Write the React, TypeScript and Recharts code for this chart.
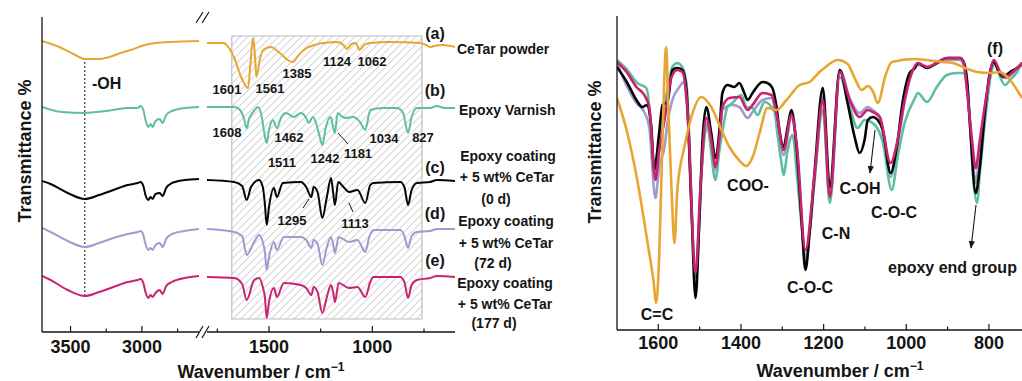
import React from 'react';
import { LineChart, Line, XAxis, YAxis, ReferenceArea, ReferenceLine } from 'recharts';

type Pt = [number, number];

// ---------- Panel 1: stacked FTIR spectra, 3700–2600 cm-1 window ----------
const cetarHigh: Pt[] = [[3700,291],[3580,285],[3480,278],[3400,273],[3300,273],[3230,275],[3150,279],[3080,282],[2950,288],[2800,290],[2600,291]];
const varnishHigh: Pt[] = [[3700,225],[3560,220],[3400,219],[3250,221],[3100,224],[3030,224],[3010,226],[2990,222],[2975,212],[2955,205],[2940,208],[2925,205],[2905,211],[2875,213],[2855,209],[2830,217],[2790,221],[2700,224],[2600,225]];
const day0High: Pt[] = [[3700,151],[3640,148],[3520,139],[3400,133],[3300,137],[3200,142],[3100,147],[3030,149],[3010,150],[2990,146],[2975,137],[2955,132],[2940,135],[2925,133],[2905,138],[2875,139],[2855,136],[2830,144],[2790,149],[2700,152],[2600,153]];
const day72High: Pt[] = [[3700,104],[3640,100],[3520,91],[3400,85],[3300,89],[3200,94],[3100,98],[3030,100],[3010,101],[2990,97],[2975,88],[2955,82],[2940,84],[2925,82],[2905,87],[2875,89],[2855,85],[2830,93],[2790,98],[2700,101],[2600,103]];
const day177High: Pt[] = [[3700,56],[3640,52],[3520,42],[3400,36],[3300,40],[3200,45],[3100,50],[3030,52],[3010,53],[2990,49],[2975,40],[2955,34],[2940,37],[2925,35],[2905,39],[2875,42],[2855,38],[2830,46],[2790,50],[2700,54],[2600,56]];

// ---------- Panel 1: stacked FTIR spectra, 1800–600 cm-1 window ----------
const cetarLow: Pt[] = [[1800,289],[1720,289],[1697,285],[1668,274],[1635,255],[1601,244],[1590,268],[1577,294],[1568,276],[1561,255],[1545,272],[1529,282],[1490,285],[1460,281],[1442,278],[1410,272],[1385,270],[1360,276],[1332,282],[1280,287],[1236,289],[1168,290],[1140,287],[1124,283],[1100,288],[1080,289],[1062,282],[1040,287],[1010,289],[913,290],[769,289],[740,287],[721,285],[700,286],[659,287],[600,285]];
const varnishLow: Pt[] = [[1800,225],[1700,225],[1668,225],[1640,222],[1622,214],[1608,204],[1595,214],[1587,217],[1570,222],[1553,225],[1535,215],[1522,198],[1511,189],[1500,202],[1481,212],[1462,204],[1440,215],[1418,219],[1380,215],[1346,219],[1320,214],[1308,209],[1288,215],[1274,210],[1258,198],[1242,187],[1225,205],[1202,215],[1190,205],[1181,199],[1168,219],[1150,216],[1130,214],[1091,215],[1060,210],[1034,202],[1010,222],[950,224],[880,224],[851,219],[827,199],[810,215],[784,224],[721,224],[688,226],[650,224],[600,224]];
const day0Low: Pt[] = [[1800,152],[1668,150],[1630,146],[1608,132],[1587,145],[1548,152],[1530,145],[1520,128],[1511,107],[1500,125],[1476,144],[1462,135],[1433,149],[1346,150],[1320,145],[1295,135],[1284,145],[1265,140],[1242,114],[1220,135],[1200,154],[1190,140],[1181,127],[1165,150],[1140,145],[1113,140],[1072,142],[1034,129],[1010,147],[995,149],[865,150],[845,145],[827,127],[810,142],[784,149],[720,150],[688,152],[600,151]];
const day72Low: Pt[] = [[1800,103],[1668,100],[1630,96],[1608,77],[1572,90],[1548,97],[1530,90],[1520,80],[1511,62],[1500,75],[1476,90],[1462,82],[1428,95],[1346,95],[1320,92],[1295,84],[1284,92],[1265,88],[1242,67],[1220,85],[1200,95],[1190,88],[1181,79],[1163,95],[1113,90],[1072,92],[1034,80],[1015,95],[995,102],[865,102],[845,96],[827,84],[810,96],[784,100],[720,101],[688,103],[600,103]];
const day177Low: Pt[] = [[1800,55],[1668,54],[1630,48],[1608,32],[1572,52],[1548,54],[1530,45],[1520,35],[1511,14],[1500,30],[1476,44],[1462,35],[1428,49],[1346,47],[1320,44],[1295,37],[1284,45],[1265,40],[1242,19],[1220,35],[1200,47],[1190,40],[1181,30],[1163,49],[1113,44],[1072,45],[1034,35],[1010,50],[995,55],[865,55],[845,50],[827,34],[810,47],[784,52],[720,54],[688,56],[600,55]];

// ---------- Panel 2: overlaid spectra, 1700–720 cm-1 ----------
const cetarFull: Pt[] = [[1700,232],[1675,197],[1651,150],[1627,90],[1612,50],[1605,27],[1598,73],[1590,190],[1581,283],[1576,223],[1568,140],[1561,87],[1554,140],[1537,183],[1520,213],[1496,233],[1472,223],[1447,200],[1428,183],[1405,170],[1387,164],[1370,175],[1355,197],[1336,222],[1314,220],[1290,230],[1258,245],[1234,248],[1210,258],[1198,262],[1166,270],[1142,266],[1125,252],[1108,240],[1093,244],[1080,238],[1069,227],[1050,255],[1035,268],[979,271],[950,270],[912,268],[887,267],[858,262],[829,258],[798,257],[773,258],[749,250],[720,232]];
const varnishFull: Pt[] = [[1700,270],[1675,260],[1651,247],[1629,242],[1622,223],[1615,180],[1607,153],[1598,180],[1590,213],[1578,240],[1566,263],[1554,267],[1542,263],[1532,247],[1525,190],[1518,107],[1508,52],[1501,107],[1493,173],[1481,205],[1472,177],[1462,150],[1452,180],[1440,210],[1433,223],[1421,227],[1399,235],[1387,223],[1372,222],[1360,215],[1343,228],[1319,218],[1312,197],[1302,167],[1297,155],[1287,180],[1275,195],[1265,157],[1253,103],[1244,68],[1234,97],[1222,150],[1202,220],[1185,127],[1161,253],[1137,223],[1118,202],[1101,210],[1076,205],[1057,188],[1035,140],[1021,173],[1004,207],[979,232],[972,237],[950,228],[926,243],[902,255],[878,257],[863,257],[853,247],[846,207],[839,157],[829,127],[822,157],[810,207],[793,260],[785,267],[773,253],[761,245],[749,250],[732,258],[720,267]];
const day0Full: Pt[] = [[1700,263],[1675,247],[1653,230],[1639,223],[1627,225],[1617,203],[1610,160],[1598,197],[1590,225],[1578,228],[1566,260],[1554,262],[1542,260],[1532,240],[1520,123],[1510,32],[1501,107],[1493,190],[1484,223],[1472,197],[1462,172],[1452,200],[1445,237],[1433,245],[1416,243],[1404,247],[1392,237],[1384,230],[1372,237],[1348,248],[1336,247],[1324,242],[1314,223],[1307,200],[1297,183],[1287,203],[1278,220],[1265,180],[1253,107],[1244,60],[1234,97],[1222,157],[1202,242],[1185,143],[1161,260],[1142,227],[1125,193],[1113,177],[1101,190],[1093,210],[1081,213],[1069,210],[1057,200],[1038,157],[1023,183],[1008,230],[992,257],[979,262],[972,267],[950,262],[926,267],[902,272],[870,272],[861,268],[853,250],[846,207],[832,137],[822,163],[810,217],[798,257],[788,268],[778,260],[766,253],[749,258],[732,262],[720,267]];
const day72Full: Pt[] = [[1700,267],[1675,243],[1653,227],[1634,218],[1622,203],[1607,132],[1598,163],[1585,183],[1578,207],[1566,230],[1549,243],[1539,248],[1530,220],[1510,57],[1497,150],[1484,207],[1472,185],[1462,160],[1452,188],[1445,220],[1421,225],[1404,223],[1384,212],[1372,218],[1348,230],[1326,232],[1312,207],[1297,175],[1278,212],[1265,182],[1244,75],[1222,150],[1202,233],[1185,130],[1161,260],[1137,232],[1113,217],[1093,223],[1081,220],[1064,212],[1038,153],[1021,185],[1004,228],[987,257],[972,265],[948,263],[924,267],[899,270],[870,270],[861,265],[853,240],[841,180],[832,147],[822,180],[805,235],[788,268],[773,256],[761,252],[742,257],[720,265]];
const day177Full: Pt[] = [[1700,268],[1675,257],[1653,243],[1634,235],[1622,223],[1607,150],[1598,180],[1585,210],[1568,253],[1554,260],[1542,258],[1530,225],[1510,57],[1497,150],[1484,212],[1472,190],[1462,163],[1452,192],[1445,223],[1428,232],[1404,233],[1384,220],[1372,225],[1348,237],[1326,235],[1312,212],[1297,180],[1278,215],[1265,185],[1244,80],[1222,155],[1202,230],[1185,133],[1161,258],[1137,230],[1113,213],[1093,220],[1081,218],[1064,213],[1038,167],[1021,190],[1004,230],[987,257],[972,267],[948,263],[924,268],[899,272],[870,272],[861,267],[853,240],[841,190],[832,162],[822,190],[805,237],[788,270],[773,258],[761,253],[742,258],[720,267]];

// ---------- axis ticks ----------
const highTicks = [3500, 3250, 3000, 2750];
const highLabels = [3500, 3000];
const lowTicks = [1750, 1500, 1250, 1000, 750];
const lowLabels = [1500, 1000];
const fullTicks = [1600, 1500, 1400, 1300, 1200, 1100, 1000, 900, 800];
const fullLabels = [1600, 1400, 1200, 1000, 800];

const COLORS = {
  cetar: '#E6A630',
  varnish: '#5EBF9F',
  day0: '#050505',
  day72: '#9F9BD0',
  day177: '#CA2170',
};

const FONT = '"Liberation Sans", Arial, Helvetica, sans-serif';
const INK = '#151515';
const AXIS = { stroke: INK, strokeWidth: 1.3 };

const rows = (pts: Pt[]) => pts.map(([wn, t]) => ({ wn, t }));

function tickRenderer(labelled: number[], labelDy: number) {
  return (props: any) => {
    const { x, y, payload } = props;
    const major = labelled.includes(payload.value);
    return (
      <g>
        <line x1={x} x2={x} y1={y} y2={y - (major ? 6 : 3.5)} stroke={INK} strokeWidth={1.2} />
        {major ? (
          <text x={x} y={y + labelDy} textAnchor="middle" fontFamily={FONT} fontSize={18} fontWeight={700} fill={INK}>
            {payload.value}
          </text>
        ) : null}
      </g>
    );
  };
}

const spectrum = (pts: Pt[], color: string, width: number, key: string) => (
  <Line
    key={key}
    data={rows(pts)}
    dataKey="t"
    type="monotone"
    stroke={color}
    strokeWidth={width}
    dot={false}
    activeDot={false}
    isAnimationActive={false}
    strokeLinejoin="round"
  />
);

const Txt = ({ x, y, size = 13, anchor = 'middle', children }: any) => (
  <text x={x} y={y} textAnchor={anchor} fontFamily={FONT} fontSize={size} fontWeight={700} fill={INK}>
    {children}
  </text>
);

export default function App() {
  return (
    <div style={{ position: 'absolute', left: 0, top: 0, width: 1022, height: 381, overflow: 'hidden', background: '#fff' }}>
      <svg width={0} height={0} style={{ position: 'absolute' }}>
        <defs>
          <pattern id="hatch" width={5.4} height={5.4} patternUnits="userSpaceOnUse" patternTransform="rotate(45)">
            <line x1={0} y1={0} x2={0} y2={5.4} stroke="#a9a9a9" strokeWidth={1} />
          </pattern>
          <marker id="arrowHead" viewBox="0 0 10 10" refX={9} refY={5} markerWidth={7} markerHeight={7} orient="auto">
            <path d="M0,1 L10,5 L0,9 z" fill={INK} />
          </marker>
        </defs>
      </svg>

      {/* Panel 1, high-wavenumber window */}
      <div style={{ position: 'absolute', left: 0, top: 0 }}>
        <LineChart width={205} height={381} margin={{ top: 17, right: 6, bottom: 0, left: 0 }}>
          <XAxis
            type="number"
            dataKey="wn"
            domain={[2600, 3700]}
            reversed
            allowDataOverflow
            ticks={highTicks}
            interval={0}
            height={49}
            tickSize={0}
            tickMargin={0}
            tickLine={false}
            axisLine={AXIS}
            tick={tickRenderer(highLabels, 21)}
          />
          <XAxis xAxisId="top" orientation="top" type="number" domain={[2600, 3700]} reversed height={0} tick={false} tickLine={false} axisLine={AXIS} />
          <YAxis type="number" domain={[0, 315]} allowDataOverflow width={42} tick={false} tickLine={false} axisLine={AXIS} />
          <ReferenceLine
            segment={[{ x: 3400, y: 36 }, { x: 3400, y: 273 }]}
            stroke={INK}
            strokeWidth={1}
            strokeDasharray="2 2"
          />
          {spectrum(cetarHigh, COLORS.cetar, 2, 'a')}
          {spectrum(varnishHigh, COLORS.varnish, 2, 'b')}
          {spectrum(day0High, COLORS.day0, 2, 'c')}
          {spectrum(day72High, COLORS.day72, 2, 'd')}
          {spectrum(day177High, COLORS.day177, 2, 'e')}
        </LineChart>
      </div>

      {/* Panel 1, fingerprint window */}
      <div style={{ position: 'absolute', left: 200, top: 0 }}>
        <LineChart width={260} height={381} margin={{ top: 17, right: 5, bottom: 0, left: 7 }}>
          <XAxis
            type="number"
            dataKey="wn"
            domain={[600, 1800]}
            reversed
            allowDataOverflow
            ticks={lowTicks}
            interval={0}
            height={49}
            tickSize={0}
            tickMargin={0}
            tickLine={false}
            axisLine={AXIS}
            tick={tickRenderer(lowLabels, 21)}
          />
          <XAxis xAxisId="top" orientation="top" type="number" domain={[600, 1800]} reversed height={0} tick={false} tickLine={false} axisLine={AXIS} />
          <YAxis orientation="right" type="number" domain={[0, 315]} allowDataOverflow width={0} tick={false} tickLine={false} axisLine={AXIS} />
          <ReferenceArea x1={1680} x2={760} y1={13} y2={296} fill="url(#hatch)" fillOpacity={1} stroke="#bdbdbd" strokeWidth={1.2} />
          {spectrum(cetarLow, COLORS.cetar, 2, 'a')}
          {spectrum(varnishLow, COLORS.varnish, 2, 'b')}
          {spectrum(day0Low, COLORS.day0, 2, 'c')}
          {spectrum(day72Low, COLORS.day72, 2, 'd')}
          {spectrum(day177Low, COLORS.day177, 2, 'e')}
        </LineChart>
      </div>

      {/* Panel 2 */}
      <div style={{ position: 'absolute', left: 560, top: 0 }}>
        <LineChart width={462} height={381} margin={{ top: 16, right: 0, bottom: 0, left: 0 }}>
          <XAxis
            type="number"
            dataKey="wn"
            domain={[720, 1700]}
            reversed
            allowDataOverflow
            ticks={fullTicks}
            interval={0}
            height={51}
            tickSize={0}
            tickMargin={0}
            tickLine={false}
            axisLine={AXIS}
            tick={tickRenderer(fullLabels, 19)}
          />
          <XAxis xAxisId="top" orientation="top" type="number" domain={[720, 1700]} reversed height={0} tick={false} tickLine={false} axisLine={AXIS} />
          <YAxis type="number" domain={[0, 314]} allowDataOverflow width={57} tick={false} tickLine={false} axisLine={AXIS} />
          {spectrum(day72Full, COLORS.day72, 2.6, 'd')}
          {spectrum(varnishFull, COLORS.varnish, 2.6, 'b')}
          {spectrum(day0Full, COLORS.day0, 2.6, 'c')}
          {spectrum(day177Full, COLORS.day177, 2.6, 'e')}
          {spectrum(cetarFull, COLORS.cetar, 2.6, 'a')}
        </LineChart>
      </div>

      {/* titles and annotations */}
      <svg width={1022} height={381} style={{ position: 'absolute', left: 0, top: 0, pointerEvents: 'none' }}>
        {/* axis-break marks */}
        <g stroke={INK} strokeWidth={1.2}>
          <line x1={196} y1={338} x2={203} y2={326} />
          <line x1={202} y1={338} x2={209} y2={326} />
          <line x1={196} y1={23} x2={203} y2={12} />
          <line x1={202} y1={23} x2={209} y2={12} />
        </g>

        <text transform="translate(31,151) rotate(-90)" textAnchor="middle" fontFamily={FONT} fontSize={18} fontWeight={700} fill={INK}>
          Transmittance %
        </text>
        <text transform="translate(601,152) rotate(-90)" textAnchor="middle" fontFamily={FONT} fontSize={18} fontWeight={700} fill={INK}>
          Transmittance %
        </text>
        <text x={261} y={378} textAnchor="middle" fontFamily={FONT} fontSize={18} fontWeight={700} fill={INK}>
          Wavenumber / cm<tspan dy={-7} fontSize={12}>−1</tspan>
        </text>
        <text x={840} y={377} textAnchor="middle" fontFamily={FONT} fontSize={18} fontWeight={700} fill={INK}>
          Wavenumber / cm<tspan dy={-7} fontSize={12}>−1</tspan>
        </text>

        <Txt x={92} y={89} size={16} anchor="start">-OH</Txt>

        {/* band positions, panel 1 */}
        <Txt x={227} y={94}>1601</Txt>
        <Txt x={270} y={93}>1561</Txt>
        <Txt x={297} y={78}>1385</Txt>
        <Txt x={337} y={66}>1124</Txt>
        <Txt x={372} y={66}>1062</Txt>
        <Txt x={227} y={137}>1608</Txt>
        <Txt x={289} y={142}>1462</Txt>
        <Txt x={282} y={167}>1511</Txt>
        <Txt x={325} y={163}>1242</Txt>
        <Txt x={358} y={158}>1181</Txt>
        <Txt x={384} y={143}>1034</Txt>
        <Txt x={423} y={142}>827</Txt>
        <Txt x={292} y={225}>1295</Txt>
        <Txt x={355} y={228}>1113</Txt>
        <g stroke={INK} strokeWidth={1}>
          <line x1={338} y1={133} x2={348} y2={144} />
          <line x1={309} y1={199} x2={303} y2={208} />
          <line x1={349} y1={203} x2={353} y2={212} />
        </g>

        <Txt x={435} y={39} size={16}>(a)</Txt>
        <Txt x={435} y={96} size={16}>(b)</Txt>
        <Txt x={435} y={173} size={16}>(c)</Txt>
        <Txt x={435} y={219} size={16}>(d)</Txt>
        <Txt x={435} y={266} size={16}>(e)</Txt>

        <Txt x={457} y={54} size={14} anchor="start">CeTar powder</Txt>
        <Txt x={459} y={115} size={14} anchor="start">Epoxy Varnish</Txt>
        <Txt x={508} y={161} size={14}>Epoxy coating</Txt>
        <Txt x={507} y={182} size={14}>+ 5 wt% CeTar</Txt>
        <Txt x={496} y={204} size={14}>(0 d)</Txt>
        <Txt x={506} y={226} size={14}>Epoxy coating</Txt>
        <Txt x={506} y={248} size={14}>+ 5 wt% CeTar</Txt>
        <Txt x={493} y={268} size={14}>(72 d)</Txt>
        <Txt x={505} y={288} size={14}>Epoxy coating</Txt>
        <Txt x={505} y={309} size={14}>+ 5 wt% CeTar</Txt>
        <Txt x={494} y={328} size={14}>(177 d)</Txt>

        {/* panel 2 assignments */}
        <Txt x={657} y={320} size={16}>C=C</Txt>
        <Txt x={748} y={191} size={16}>COO-</Txt>
        <Txt x={810} y={293} size={16}>C-O-C</Txt>
        <Txt x={836} y={239} size={16}>C-N</Txt>
        <Txt x={860} y={194} size={16}>C-OH</Txt>
        <Txt x={894} y={218} size={16}>C-O-C</Txt>
        <Txt x={888} y={273} size={16} anchor="start">epoxy end group</Txt>
        <Txt x={995} y={54} size={16}>(f)</Txt>
        <g stroke={INK} strokeWidth={1.1}>
          <line x1={875} y1={130} x2={870} y2={173} markerEnd="url(#arrowHead)" />
          <line x1={976} y1={205} x2={971} y2={248} markerEnd="url(#arrowHead)" />
        </g>
      </svg>
    </div>
  );
}
